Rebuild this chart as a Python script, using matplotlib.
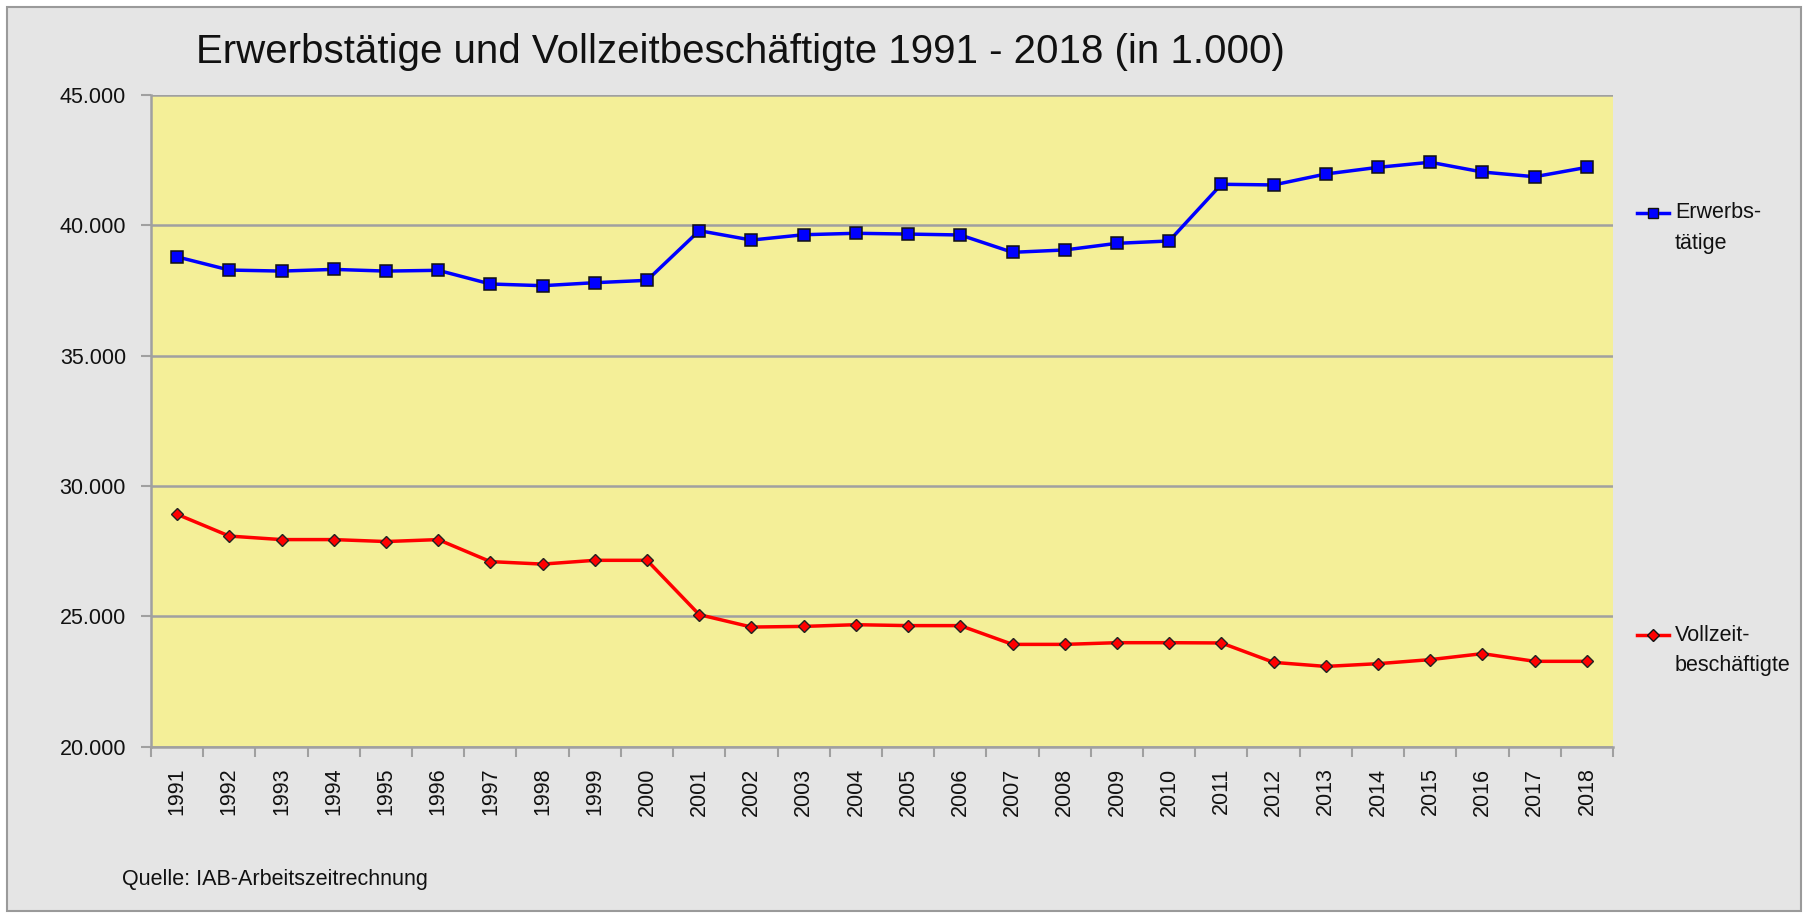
import matplotlib.pyplot as plt
from matplotlib.lines import Line2D
from matplotlib.patches import Rectangle
from matplotlib.ticker import FuncFormatter, MultipleLocator

plt.rcParams['font.family'] = ['Liberation Sans', 'DejaVu Sans']

# Daten (in 1.000)
jahre = list(range(1991, 2019))
erwerbstaetige = [38790, 38285, 38245, 38310, 38245, 38275, 37750, 37685, 37800, 37890,
                  39795, 39435, 39640, 39695, 39665, 39630, 38965, 39055, 39310, 39400,
                  41575, 41550, 41970, 42225, 42420, 42045, 41865, 42225]
vollzeit = [28915, 28080, 27945, 27945, 27870, 27945, 27100, 27005, 27150, 27150,
            25065, 24590, 24615, 24680, 24645, 24645, 23925, 23925, 23990, 23990,
            23980, 23235, 23080, 23185, 23340, 23570, 23275, 23275]

W, H = 1808, 913
fig = plt.figure(figsize=(W / 100, H / 100), dpi=100, facecolor='white')

# grauer Hintergrund mit Rahmen
fig.patches.append(Rectangle((7 / W, 2 / H), 1 - 14 / W, 1 - 9 / H, transform=fig.transFigure,
                             facecolor='#e5e5e5', edgecolor='#9a9a9a', linewidth=1.5, zorder=-10))

ax = fig.add_axes([151 / W, 1 - 746.7 / H, (1613 - 151) / W, (746.7 - 95) / H])
ax.set_facecolor('#f4ef98')

x = list(range(len(jahre)))
ax.plot(x, erwerbstaetige, color='#0000ff', linewidth=2.5, marker='s', markersize=8,
        markerfacecolor='#0000ff', markeredgecolor='#111111', markeredgewidth=1.1, zorder=3)
ax.plot(x, vollzeit, color='#ff0000', linewidth=2.5, marker='D', markersize=6.5,
        markerfacecolor='#ff0000', markeredgecolor='#222222', markeredgewidth=1.0, zorder=3)

ax.set_xlim(-0.5, len(jahre) - 0.5)
ax.set_ylim(20000, 45000)
ax.yaxis.set_major_locator(MultipleLocator(5000))
ax.yaxis.set_major_formatter(FuncFormatter(lambda v, p: f'{int(v):,}'.replace(',', '.')))
ax.grid(axis='y', color='#a0a0a0', linewidth=1.8, zorder=1)
ax.set_axisbelow(True)

ax.set_xticks(x)
ax.set_xticklabels([str(j) for j in jahre], rotation=90, fontsize=15.5, color='#111111')
ax.set_xticks([i - 0.5 for i in range(len(jahre) + 1)], minor=True)
ax.tick_params(axis='x', which='major', length=0, pad=15)
ax.tick_params(axis='x', which='minor', length=7, width=1.5, color='#a0a0a0', direction='out')
ax.tick_params(axis='y', length=7, width=1.5, color='#a0a0a0', labelsize=15.5,
               labelcolor='#111111', pad=11)

for s in ['top', 'right']:
    ax.spines[s].set_visible(False)
for s in ['left', 'bottom']:
    ax.spines[s].set_color('#a0a0a0')
    ax.spines[s].set_linewidth(1.8)

# Titel und Quelle
fig.text(196 / W, 1 - 52 / H, 'Erwerbstätige und Vollzeitbeschäftigte 1991 - 2018 (in 1.000)',
         fontsize=29, ha='left', va='center', color='#111111')
fig.text(122 / W, 1 - 879 / H, 'Quelle: IAB-Arbeitszeitrechnung',
         fontsize=15.5, ha='left', va='center', color='#111111')

# Legende
def legend_key(y, color, marker, ms, lines):
    fig.add_artist(Line2D([1637 / W, 1653 / W, 1669 / W], [1 - y / H] * 3,
                          transform=fig.transFigure, color=color, linewidth=2.5,
                          marker=marker, markersize=ms, markevery=[1],
                          markerfacecolor=color, markeredgecolor='#111111', markeredgewidth=1.0))
    for k, t in enumerate(lines):
        fig.text(1675 / W, 1 - (y + k * 30) / H, t, fontsize=15.5, ha='left', va='center',
                 color='#111111')

legend_key(213, '#0000ff', 's', 7.5, ['Erwerbs-', 'tätige'])
legend_key(635, '#ff0000', 'D', 6.5, ['Vollzeit-', 'beschäftigte'])

fig.savefig('out.png', dpi=100, facecolor=fig.get_facecolor())
